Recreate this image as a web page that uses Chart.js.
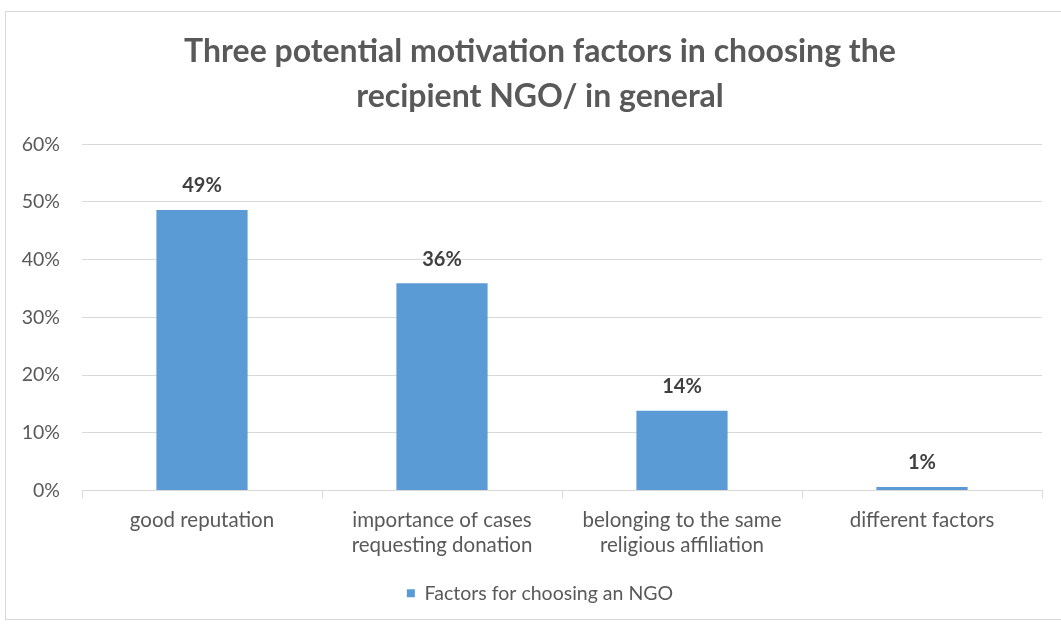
<!DOCTYPE html>
<html>
<head>
<meta charset="utf-8">
<script src="https://cdn.jsdelivr.net/npm/chart.js@4.4.0/dist/chart.umd.min.js"></script>
<style>
  body { margin: 0; background: #fff; overflow: hidden; width: 1061px; height: 628px; }
  #wrap { position: absolute; left: 5px; top: 11px; width: 1070px; height: 609px; border: 1px solid #d9d9d9; box-sizing: border-box; }
  canvas { position: absolute; left: 0; top: 0; }
</style>
</head>
<body>
<div id="wrap"><canvas id="ngoChart" width="1068" height="607"></canvas></div>
<script>
// categories + values (share of respondents, %)
var categories = [
  ['good reputation'],
  ['importance of cases', 'requesting donation'],
  ['belonging to the same', 'religious affiliation'],
  ['different factors']
];
var factorValues = [48.6, 35.9, 13.8, 0.6];
var yTicks = [0, 10, 20, 30, 40, 50, 60];
var seriesName = 'Factors for choosing an NGO';
var chartTitle = ['Three potential motivation factors in choosing the', 'recipient NGO/ in general'];

var FONT = 'Lato, "Open Sans", sans-serif';
var textGray = '#595959';

// labels above the bars
var barLabels = {
  id: 'barLabels',
  afterDatasetsDraw: function(chart) {
    var ctx = chart.ctx;
    var meta = chart.getDatasetMeta(0);
    ctx.save();
    ctx.font = 'bold 20px ' + FONT;
    ctx.fillStyle = '#404040';
    ctx.textAlign = 'center';
    ctx.textBaseline = 'middle';
    meta.data.forEach(function(bar, i) {
      ctx.fillText(Math.round(factorValues[i]) + '%', bar.x, bar.y - 24);
    });
    ctx.restore();
  }
};

var ctx = document.getElementById('ngoChart').getContext('2d');
new Chart(ctx, {
  type: 'bar',
  data: {
    labels: categories,
    datasets: [{
      label: seriesName,
      data: factorValues,
      backgroundColor: '#5b9bd5',
      borderWidth: 0,
      categoryPercentage: 1,
      barPercentage: 0.38
    }]
  },
  options: {
    responsive: false,
    animation: false,
    layout: { padding: { left: 0, right: 0, top: 0, bottom: 6 } },
    plugins: {
      title: {
        display: true,
        text: chartTitle,
        color: textGray,
        font: { family: FONT, size: 32, weight: 'bold', lineHeight: 1.41 },
        padding: { top: 17, bottom: 25 }
      },
      legend: {
        position: 'bottom',
        labels: {
          color: textGray,
          font: { family: FONT, size: 19.5 },
          usePointStyle: true,
          pointStyle: 'rect',
          boxWidth: 8,
          boxHeight: 8,
          padding: 17
        }
      },
      tooltip: { enabled: false }
    },
    scales: {
      x: {
        grid: { display: true, drawOnChartArea: false, drawTicks: true, tickLength: 8, color: '#d9d9d9', offset: true },
        border: { display: true, color: '#d9d9d9' },
        ticks: { color: textGray, font: { family: FONT, size: 20.5, lineHeight: 1.22 }, padding: 9, maxRotation: 0 }
      },
      y: {
        min: 0,
        max: 60,
        afterBuildTicks: function(scale) {
          scale.ticks = yTicks.map(function(v) { return { value: v }; });
        },
        afterFit: function(scale) { scale.width = 76; },
        grid: { color: '#d9d9d9', drawTicks: false },
        border: { display: false },
        ticks: {
          color: textGray,
          font: { family: FONT, size: 19.5 },
          padding: 22,
          callback: function(v) { return v + '%'; }
        }
      },
      // empty right axis: only keeps the plot's right margin
      yRight: {
        position: 'right',
        min: 0,
        max: 60,
        afterFit: function(scale) { scale.width = 32; },
        grid: { drawOnChartArea: false, drawTicks: false },
        border: { display: false },
        ticks: { display: false }
      }
    }
  },
  plugins: [barLabels]
});
</script>
</body>
</html>
